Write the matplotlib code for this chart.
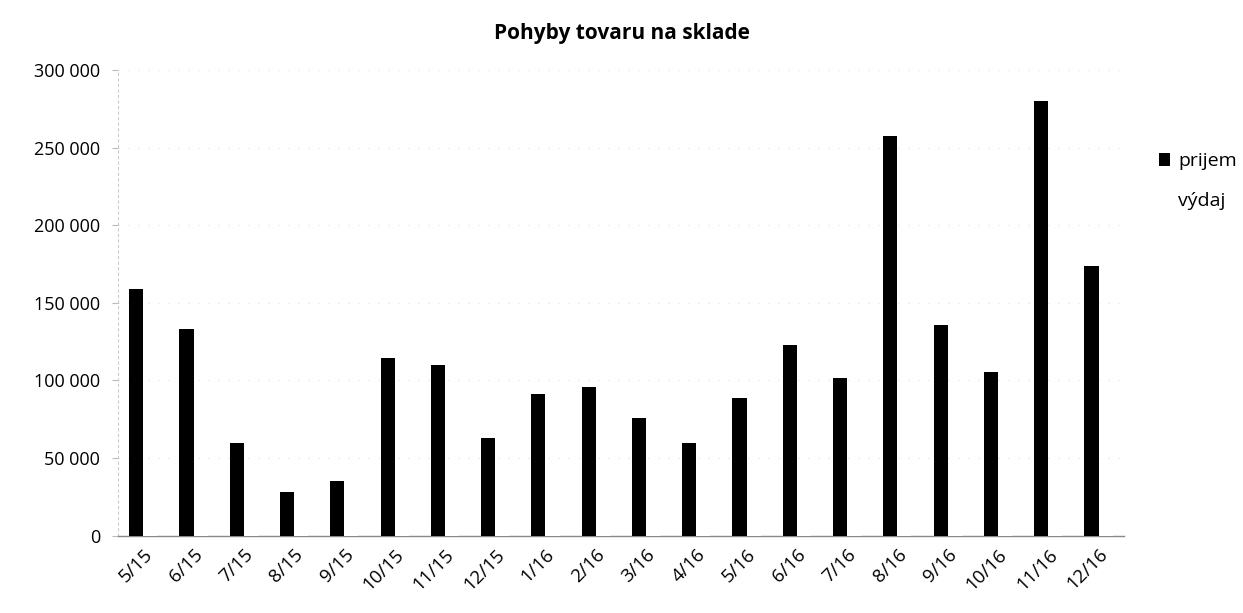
import numpy as np
import matplotlib.pyplot as plt
from matplotlib.ticker import FuncFormatter

months = ['5/15', '6/15', '7/15', '8/15', '9/15', '10/15', '11/15', '12/15',
          '1/16', '2/16', '3/16', '4/16', '5/16', '6/16', '7/16', '8/16',
          '9/16', '10/16', '11/16', '12/16']
prijem = [159000, 133000, 60000, 28500, 35000, 114500, 110000, 63000,
          91000, 96000, 76000, 60000, 88500, 123000, 101500, 257500,
          136000, 105500, 280000, 174000]
vydaj = [1200, 1000, 1200, 1000, 1000, 1200, 1000, 1000,
         1000, 1000, 1000, 1200, 1200, 1200, 1200, 1200,
         1200, 1200, 1200, 1000]

plt.rcParams['font.family'] = ['Open Sans', 'DejaVu Sans']

fig = plt.figure(figsize=(12.43, 6.13), dpi=100)
ax = fig.add_axes([0.095, 0.126, 0.809, 0.76])

x = np.arange(len(months))
w = 0.28
ax.bar(x - w / 2, prijem, w, color='black', label='prijem', zorder=3)
ax.bar(x + w / 2, vydaj, w, color='white', label='výdaj', zorder=3)

ax.set_xlim(-0.5, len(months) - 0.5)
ax.set_ylim(0, 300000)
ax.set_yticks(np.arange(0, 300001, 50000))
ax.yaxis.set_major_formatter(FuncFormatter(lambda v, p: f'{int(v):,}'.replace(',', ' ')))
ax.grid(axis='y', color='#e0e0e0', linestyle=(0, (1, 8)), linewidth=0.8, zorder=0)

ax.set_xticks(x)
ax.set_xticklabels(months, rotation=45, ha='right', rotation_mode='anchor', fontsize=13.5)
ax.tick_params(axis='x', length=0, pad=7)
ax.tick_params(axis='y', labelsize=13, length=4, color='#bbbbbb', pad=9)

for s in ['top', 'right']:
    ax.spines[s].set_visible(False)
ax.spines['left'].set_color('#cccccc')
ax.spines['left'].set_linestyle((0, (2, 3)))
ax.spines['bottom'].set_color('#888888')
ax.spines['bottom'].set_linewidth(1.0)

fig.text(0.5, 0.945, 'Pohyby tovaru na sklade', ha='center', va='center',
         fontsize=15, fontweight='bold')

fig.legend(loc='upper left', bbox_to_anchor=(0.918, 0.78), frameon=False,
           fontsize=14, labelspacing=1.1, handlelength=0.6, handleheight=0.6,
           handletextpad=0.4)

fig.savefig('out.png', dpi=100)
